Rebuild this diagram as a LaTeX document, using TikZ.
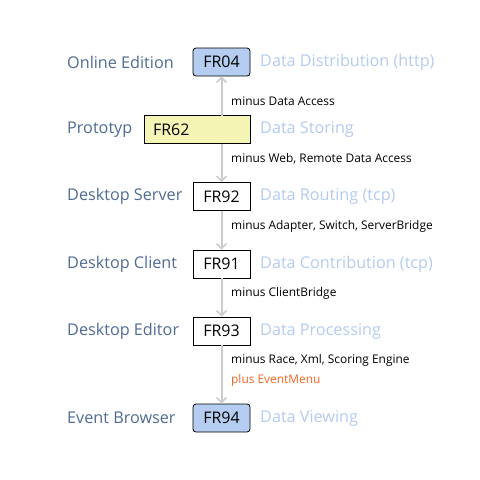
\documentclass[tikz,border=0pt]{standalone}
\usepackage{fontspec}
\setmainfont{Open Sans}
\usetikzlibrary{arrows.meta}
\definecolor{lefttxt}{HTML}{4F6B93}
\definecolor{righttxt}{HTML}{B4CBEE}
\definecolor{bluefill}{HTML}{B4CDF0}
\definecolor{yellowfill}{HTML}{F4F4B4}
\definecolor{arrowgray}{HTML}{CCCCCC}
\definecolor{orangetxt}{HTML}{F26522}
\tikzset{
  frbox/.style={draw=black, line width=0.8pt, minimum width=57pt, minimum height=28pt, inner sep=0pt, font=\fontsize{16}{19}\selectfont},
  roundbox/.style={frbox, rounded corners=3pt, fill=bluefill},
  lefttext/.style={anchor=west, text=lefttxt, font=\fontsize{16.2}{19}\selectfont, inner sep=0pt},
  righttext/.style={anchor=west, text=righttxt, font=\fontsize{16.2}{19}\selectfont, inner sep=0pt},
  edgetext/.style={anchor=west, font=\fontsize{11.9}{14}\selectfont, inner sep=0pt},
  conn/.style={draw=arrowgray, line width=2pt, -{Straight Barb[length=5pt,width=10pt,line width=1.5pt]}}
}
\begin{document}
\begin{tikzpicture}[x=1pt,y=-1pt]
\useasboundingbox (0,0) rectangle (480,480);
% boxes
\node[roundbox] (fr04) at (221.5,62) {FR04};
\node[frbox, fill=yellowfill, minimum width=106pt, text width=88pt, align=left] (fr62) at (197,129.5) {FR62};
\node[frbox] (fr92) at (221.5,196.5) {FR92};
\node[frbox] (fr91) at (221.5,264) {FR91};
\node[frbox] (fr93) at (221.5,331) {FR93};
\node[roundbox] (fr94) at (221.5,418) {FR94};
% left labels
\node[lefttext] (l1) at (67,62) {Online Edition};
\node[lefttext] (l2) at (67,129.5) {Prototyp};
\node[lefttext] (l3) at (67,196.5) {Desktop Server};
\node[lefttext] (l4) at (67,264) {Desktop Client};
\node[lefttext] (l5) at (67,331) {Desktop Editor};
\node[lefttext] (l6) at (67,418) {Event Browser};
% right labels
\node[righttext] (r1) at (260,62) {Data Distribution (http)};
\node[righttext] (r2) at (260,129.5) {Data Storing};
\node[righttext] (r3) at (260,196.5) {Data Routing (tcp)};
\node[righttext] (r4) at (260,264) {Data Contribution (tcp)};
\node[righttext] (r5) at (260,331) {Data Processing};
\node[righttext] (r6) at (260,418) {Data Viewing};
% connectors
\coordinate (c62t) at (221.5,115.5);
\coordinate (c62b) at (221.5,143.5);
\draw[conn] (c62t) -- (fr04.south);
\draw[conn] (c62b) -- (fr92.north);
\draw[conn] (fr92.south) -- (fr91.north);
\draw[conn] (fr91.south) -- (fr93.north);
\draw[conn] (fr93.south) -- (fr94.north);
% edge labels
\node[edgetext] (e1) at (231,101) {minus Data Access};
\node[edgetext] (e2) at (231,159) {minus Web, Remote Data Access};
\node[edgetext] (e3) at (231,226) {minus Adapter, Switch, ServerBridge};
\node[edgetext] (e4) at (231,293) {minus ClientBridge};
\node[edgetext] (e5) at (231,360) {minus Race, Xml, Scoring Engine};
\node[edgetext, text=orangetxt] (e6) at (231,380) {plus EventMenu};
\end{tikzpicture}
\end{document}
